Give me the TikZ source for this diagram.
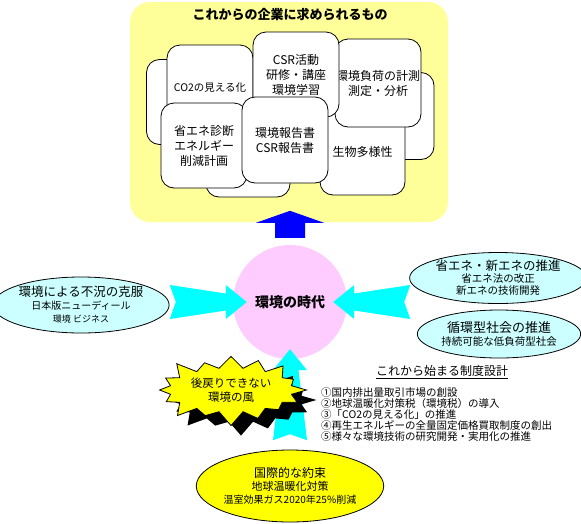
\documentclass[tikz,border=0pt]{standalone}
\usepackage{fontspec}
\setmainfont{Noto Sans CJK JP}
\usetikzlibrary{shapes.geometric,shapes.symbols,shadows,calc}
\definecolor{panelyellow}{HTML}{FFFF99}
\definecolor{aqua}{HTML}{00FFFF}
\definecolor{paleaqua}{HTML}{CCFFFF}
\definecolor{erapink}{HTML}{FFCCFF}
\definecolor{lemon}{HTML}{FFFF00}
\definecolor{pureblue}{HTML}{0000FF}

\begin{document}
\begin{tikzpicture}[
    x=1pt, y=-1pt,
    card/.style={draw, line width=0.8pt, fill=white, rounded corners=13pt, align=center, inner sep=0pt, font=\fontsize{12}{15}\selectfont},
    bubble/.style={ellipse, draw, line width=0.8pt, align=center, inner sep=0pt},
    pics/inflow/.style={code={
        \fill[aqua] (0,0) -- (-21,-17) -- (-21,-8.5) -- (-#1,-17) -- ({-#1+6},0)
            -- (-#1,17) -- (-21,8.5) -- (-21,17) -- cycle;
    }}
]
\useasboundingbox (0,0) rectangle (581,523);

% companies panel
\node[fill=panelyellow, rounded corners=20pt, minimum width=318pt, minimum height=220pt] (panel) at (289,112) {};
\node[font=\bfseries\fontsize{13}{15}\selectfont] (title) at (290,15) {これからの企業に求められるもの};

\node[card, minimum width=93pt, minimum height=85pt] (backL) at (193,102) {};
\node[card, minimum width=84pt, minimum height=87pt] (backR) at (392,116) {};
\node[card, minimum width=84pt, minimum height=78pt] (backB) at (248,158) {};
\node[card, minimum width=86pt, minimum height=85pt, font=\fontsize{10.5}{13}\selectfont] (co2) at (210,87.5) {CO2の見える化};
\node[card, minimum width=85pt, minimum height=87pt] (bio) at (362.5,151.5) {生物多様性};
\node[card, minimum width=86pt, minimum height=88pt] (load) at (378,83) {環境負荷の計測\\測定・分析};
\node[card, minimum width=86pt, minimum height=85pt] (csr) at (296,74.5) {CSR活動\\研修・講座\\環境学習};
\node[card, minimum width=86pt, minimum height=85pt] (saving) at (204,145.5) {省エネ診断\\エネルギー\\削減計画};
\node[card, minimum width=86pt, minimum height=86pt] (report) at (285,140) {環境報告書\\CSR報告書};

% centre
\node[circle, fill=erapink, minimum size=114pt, inner sep=0pt, font=\bfseries\fontsize{14}{16}\selectfont] (era) at (290,302) {環境の時代};

\fill[pureblue] ($(era.north)+(-15,-7)$) -- ++(0,-15) -- ++(-19,0) -- ++(34,-12)
    -- ++(34,12) -- ++(-19,0) -- ++(0,15) -- cycle;

\pic at ($(era.west)+(14,0)$) {inflow=77};
\pic[rotate=180] at ($(era.east)+(-14,0)$) {inflow=77};
\pic[rotate=90] at ($(era.south)+(0,-10)$) {inflow=91};

% driving forces
\node[bubble, fill=paleaqua, minimum width=158pt, minimum height=56pt, font=\fontsize{10}{13}\selectfont] (slump) at (81,305)
    {{\fontsize{12.5}{14}\selectfont 環境による不況の克服}\\日本版ニューディール\\{\fontsize{9}{11}\selectfont 環境 ビジネス}};
\node[bubble, fill=paleaqua, minimum width=154pt, minimum height=51pt, font=\fontsize{10.5}{12}\selectfont] (newenergy) at (498,278)
    {{\fontsize{12.5}{14}\selectfont 省エネ・新エネの推進}\\省エネ法の改正\\新エネの技術開発};
\node[bubble, fill=paleaqua, minimum width=156pt, minimum height=48pt, font=\fontsize{10.5}{13}\selectfont] (recycle) at (499,334)
    {{\fontsize{13}{15}\selectfont 循環型社会の推進}\\持続可能な低負荷型社会};
\node[bubble, fill=lemon, minimum width=174pt, minimum height=72pt, font=\fontsize{11}{13}\selectfont] (pledge) at (290,486)
    {{\fontsize{12}{14}\selectfont 国際的な約束}\\地球温暖化対策\\{\fontsize{10}{12}\selectfont 温室効果ガス2020年25\%削減}};

\node[starburst, starburst points=16, starburst point height=16pt, draw, line width=0.8pt, fill=lemon,
    minimum width=100pt, minimum height=58pt, align=center, font=\fontsize{11.5}{14}\selectfont,
    drop shadow={shadow xshift=10pt, shadow yshift=-10pt, fill=black, opacity=1}] (gust) at (231,390)
    {後戻りできない\\環境の風};

% policy list
\node[font=\fontsize{12}{14}\selectfont] (reform) at (442,372) {\underline{これから始まる制度設計}};
\node[anchor=north west, align=left, inner sep=0pt, font=\fontsize{10.5}{11}\selectfont] (items) at (321,387)
    {①国内排出量取引市場の創設\\②地球温暖化対策税（環境税）の導入\\③「CO2の見える化」の推進\\④再生エネルギーの全量固定価格買取制度の創出\\⑤様々な環境技術の研究開発・実用化の推進};
\end{tikzpicture}
\end{document}
